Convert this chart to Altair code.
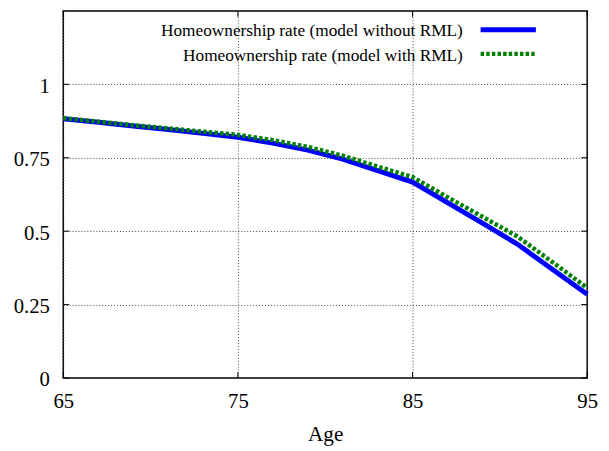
import altair as alt
import pandas as pd

# ---- data ----
ages = [65, 67, 69, 71, 73, 75, 77, 79, 81, 83, 85, 87, 89, 91, 93, 95]
without_rml = [0.883, 0.871, 0.858, 0.846, 0.833, 0.820, 0.800, 0.776, 0.745, 0.706,
               0.667, 0.597, 0.527, 0.456, 0.370, 0.285]
with_rml = [0.885, 0.873, 0.861, 0.850, 0.839, 0.828, 0.810, 0.787, 0.757, 0.720,
            0.684, 0.616, 0.549, 0.482, 0.395, 0.307]
series_names = ["Homeownership rate (model without RML)",
                "Homeownership rate (model with RML)"]
series_colors = ["#0000ff", "#008000"]
x_ticks = [65, 75, 85, 95]
y_ticks = [0, 0.25, 0.5, 0.75, 1]

rows = []
for a, v in zip(ages, without_rml):
    rows.append({"age": a, "rate": v, "series": series_names[0]})
for a, v in zip(ages, with_rml):
    rows.append({"age": a, "rate": v, "series": series_names[1]})
df = pd.DataFrame(rows)

FONT = "Liberation Serif, Times New Roman, serif"
W, H = 531, 372
TICK = 6

x_scale = alt.Scale(domain=[65, 95], nice=False, zero=False)
y_scale = alt.Scale(domain=[0, 1.25], nice=False)

x_enc = alt.X("age:Q", scale=x_scale,
              axis=alt.Axis(values=x_ticks, title="Age", labelPadding=30,
                            labelBaseline="alphabetic", labelFlush=False,
                            titleY=63, titleBaseline="alphabetic", format="d"))
y_enc = alt.Y("rate:Q", scale=y_scale,
              axis=alt.Axis(values=y_ticks, title=None, labelPadding=14,
                            labelOffset=2, labelFlush=False, format="~g"))

base = alt.Chart(df)

line_without = base.transform_filter(
    alt.datum.series == series_names[0]
).mark_line(color=series_colors[0], strokeWidth=5, strokeCap="butt",
            strokeJoin="miter").encode(x=x_enc, y=y_enc)

line_with = base.transform_filter(
    alt.datum.series == series_names[1]
).mark_line(color=series_colors[1], strokeWidth=4.5, strokeDash=[3.5, 2.2],
            strokeCap="butt").encode(x=x_enc, y=y_enc)

# ---- inward ticks on all four sides (gnuplot style) ----
xt = pd.DataFrame({"age": x_ticks})
yt = pd.DataFrame({"rate": y_ticks})
tick_layers = [
    alt.Chart(xt).mark_rule(color="black", strokeWidth=1).encode(
        x=alt.X("age:Q", scale=x_scale), y=alt.value(H - TICK), y2=alt.value(H)),
    alt.Chart(xt).mark_rule(color="black", strokeWidth=1).encode(
        x=alt.X("age:Q", scale=x_scale), y=alt.value(0), y2=alt.value(TICK)),
    alt.Chart(yt).mark_rule(color="black", strokeWidth=1).encode(
        y=alt.Y("rate:Q", scale=y_scale), x=alt.value(0), x2=alt.value(TICK)),
    alt.Chart(yt).mark_rule(color="black", strokeWidth=1).encode(
        y=alt.Y("rate:Q", scale=y_scale), x=alt.value(W - TICK), x2=alt.value(W)),
]

# ---- legend (gnuplot style: text right-aligned, sample to the right) ----
leg_text_x = 405
leg_s_x1, leg_s_x2 = 423, 479
leg_text_y = [25.5, 50.5]
leg_sym_y = [19, 43.5]

leg_layers = []
for i in range(2):
    d = pd.DataFrame({"label": [series_names[i]]})
    leg_layers.append(
        alt.Chart(d).mark_text(align="right", baseline="alphabetic", font=FONT,
                               fontSize=17.5, color="black").encode(
            x=alt.value(leg_text_x), y=alt.value(leg_text_y[i]), text="label:N")
    )
d0 = pd.DataFrame({"label": [series_names[0]]})
leg_layers.append(
    alt.Chart(d0).mark_rule(color=series_colors[0], strokeWidth=5,
                            strokeCap="butt").encode(
        x=alt.value(leg_s_x1), x2=alt.value(leg_s_x2), y=alt.value(leg_sym_y[0]))
)
d1 = pd.DataFrame({"label": [series_names[1]]})
leg_layers.append(
    alt.Chart(d1).mark_rule(color=series_colors[1], strokeWidth=4.5,
                            strokeDash=[3.5, 2.2], strokeCap="butt").encode(
        x=alt.value(leg_s_x1), x2=alt.value(leg_s_x2), y=alt.value(leg_sym_y[1]))
)

chart = alt.layer(*tick_layers, line_without, line_with, *leg_layers).properties(
    width=W, height=H,
    autosize=alt.AutoSizeParams(type="none"),
    padding={"left": 56, "top": 0, "right": 14, "bottom": 70},
).configure_view(
    stroke="black", strokeWidth=1.5
).configure_axis(
    domain=False, ticks=False, grid=True,
    gridColor="#444444", gridDash=[1, 2], gridWidth=1,
    labelFont=FONT, labelFontSize=21, labelColor="black",
    titleFont=FONT, titleFontSize=21.5, titleColor="black", titleFontWeight="normal",
)

chart.save("out.html", embed_options={"renderer": "svg", "actions": False})
